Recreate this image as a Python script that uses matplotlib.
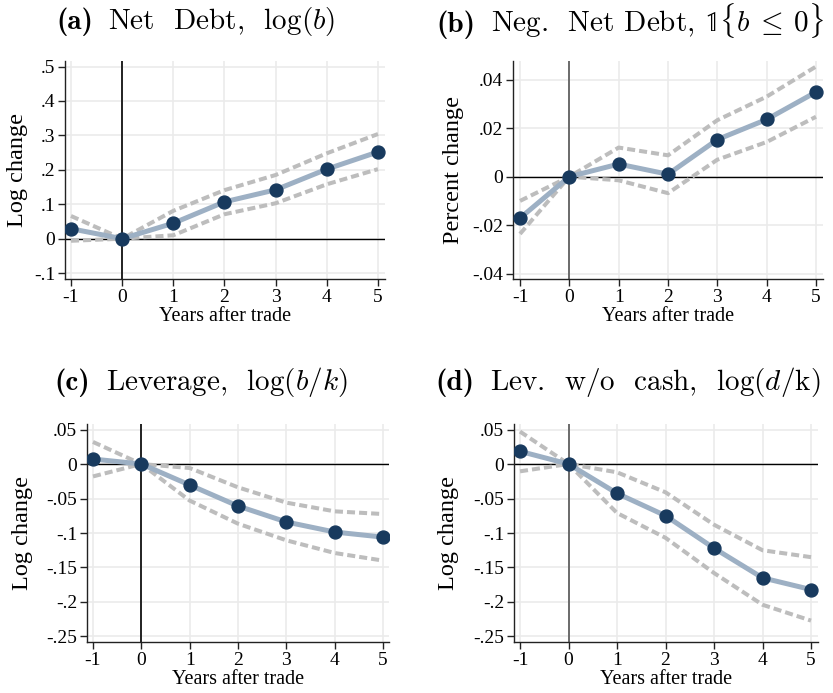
import matplotlib
matplotlib.use("Agg")
import matplotlib.pyplot as plt
from matplotlib.ticker import FuncFormatter
from matplotlib.offsetbox import TextArea, HPacker, AnnotationBbox

plt.rcParams["font.family"] = ["Liberation Serif", "DejaVu Serif"]
plt.rcParams["mathtext.fontset"] = "cm"
plt.rcParams["axes.unicode_minus"] = False

years = [-1, 0, 1, 2, 3, 4, 5]

# (a) Net debt
net_debt = [0.029, 0.0, 0.045, 0.107, 0.142, 0.202, 0.252]
net_debt_hi = [0.066, 0.0, 0.081, 0.141, 0.185, 0.248, 0.304]
net_debt_lo = [-0.006, 0.0, 0.010, 0.071, 0.103, 0.158, 0.202]

# (b) Negative net debt indicator
neg_debt = [-0.0171, 0.0, 0.0052, 0.0010, 0.0153, 0.0236, 0.0349]
neg_debt_hi = [-0.0100, 0.0, 0.0120, 0.0088, 0.0233, 0.0330, 0.0454]
neg_debt_lo = [-0.0236, 0.0, -0.0015, -0.0068, 0.0070, 0.0143, 0.0247]

# (c) Leverage
lev = [0.0072, 0.0, -0.0304, -0.0609, -0.0840, -0.0986, -0.1060]
lev_hi = [0.032, 0.0, -0.0058, -0.0338, -0.0560, -0.0686, -0.0725]
lev_lo = [-0.018, 0.0, -0.053, -0.0865, -0.1106, -0.1290, -0.1400]

# (d) Leverage without cash
lev_nc = [0.0184, 0.0, -0.0425, -0.0749, -0.1220, -0.1650, -0.1820]
lev_nc_hi = [0.047, 0.0, -0.012, -0.041, -0.088, -0.125, -0.135]
lev_nc_lo = [-0.0106, 0.0, -0.071, -0.107, -0.158, -0.204, -0.227]

panel_tags = ["(a)", "(b)", "(c)", "(d)"]
panel_names = [
    r"Net  Debt,  $\log(b)$",
    r"Neg.  Net Debt, $\mathbb{1}\{b\:\leq\:0\}$",
    r"Leverage,  $\log(b/k)$",
    r"Lev.  w/o  cash,  $\log(d/\mathrm{k})$",
]
ylabels = ["Log change", "Percent change", "Log change", "Log change"]
yticks_list = [
    [-0.1, 0, 0.1, 0.2, 0.3, 0.4, 0.5],
    [-0.04, -0.02, 0, 0.02, 0.04],
    [-0.25, -0.2, -0.15, -0.1, -0.05, 0, 0.05],
    [-0.25, -0.2, -0.15, -0.1, -0.05, 0, 0.05],
]
ylims = [(-0.117, 0.516), (-0.0422, 0.0477), (-0.258, 0.058), (-0.258, 0.058)]
series = [
    (net_debt, net_debt_hi, net_debt_lo),
    (neg_debt, neg_debt_hi, neg_debt_lo),
    (lev, lev_hi, lev_lo),
    (lev_nc, lev_nc_hi, lev_nc_lo),
]

W, H = 833, 693
# axes boxes in pixels: left, right, top, bottom
boxes = [(65, 385, 61, 279), (513, 823, 61, 279), (87, 389, 424, 642), (514, 818, 424, 642)]
xlims = [(-1.117, 5.137), (-1.142, 5.142), (-1.124, 5.124), (-1.124, 5.144)]
title_pos = [(196, 21), (630, 21), (201, 382), (628, 382)]
ylabel_right = [28, 464, 33, 459]
vline_colors = ["black", "#555555", "black", "#555555"]


def fmt(v, _):
    if abs(v) < 1e-12:
        return "0"
    s = f"{v:g}"
    return s.replace("0.", ".")


fig = plt.figure(figsize=(W / 100, H / 100), dpi=100)
for i in range(4):
    l, r, t, b = boxes[i]
    ax = fig.add_axes([l / W, 1 - b / H, (r - l) / W, (b - t) / H])
    y, hi, lo = series[i]
    ax.set_xlim(*xlims[i])
    ax.set_ylim(*ylims[i])
    ax.set_xticks(years)
    ax.set_yticks(yticks_list[i])
    ax.yaxis.set_major_formatter(FuncFormatter(fmt))
    ax.grid(True, color="#ebebeb", lw=1.2, zorder=0)
    ax.set_axisbelow(True)
    for s in ["top", "right"]:
        ax.spines[s].set_visible(False)
    for s in ["left", "bottom"]:
        ax.spines[s].set_linewidth(1.0)
        ax.spines[s].set_color("#222222")
    ax.tick_params(direction="out", length=5, width=1.0, labelsize=14, color="#222222", pad=2)
    ax.axhline(0, color="black", lw=1.0, zorder=1)
    ax.axvline(0, color=vline_colors[i], lw=1.2, zorder=1)
    ax.plot(years, hi, color="#bdbdbd", lw=2.9, ls=(0, (2.0, 1.0)), zorder=2)
    ax.plot(years, lo, color="#bdbdbd", lw=2.9, ls=(0, (2.0, 1.0)), zorder=2)
    ax.plot(years, y, color="#9db0c4", lw=3.6, zorder=3)
    ax.plot(years, y, "o", color="#183a5e", ms=9.3, zorder=4)
    ax.set_xlabel("Years after trade", fontsize=14.5, labelpad=1)
    ax.set_ylabel(ylabels[i], fontsize=17.5)
    ax.yaxis.set_label_coords((ylabel_right[i] - l) / (r - l), 0.5)

    tag = TextArea(panel_tags[i], textprops=dict(family="cmb10", fontsize=21))
    name = TextArea(panel_names[i], textprops=dict(family="cmr10", fontsize=21))
    pack = HPacker(children=[tag, name], align="baseline", pad=0, sep=11)
    tx, ty = title_pos[i]
    fig.add_artist(AnnotationBbox(pack, (tx / W, 1 - ty / H), xycoords="figure fraction",
                                  frameon=False, box_alignment=(0.5, 0.5), pad=0))

fig.savefig("out.png", dpi=100)
